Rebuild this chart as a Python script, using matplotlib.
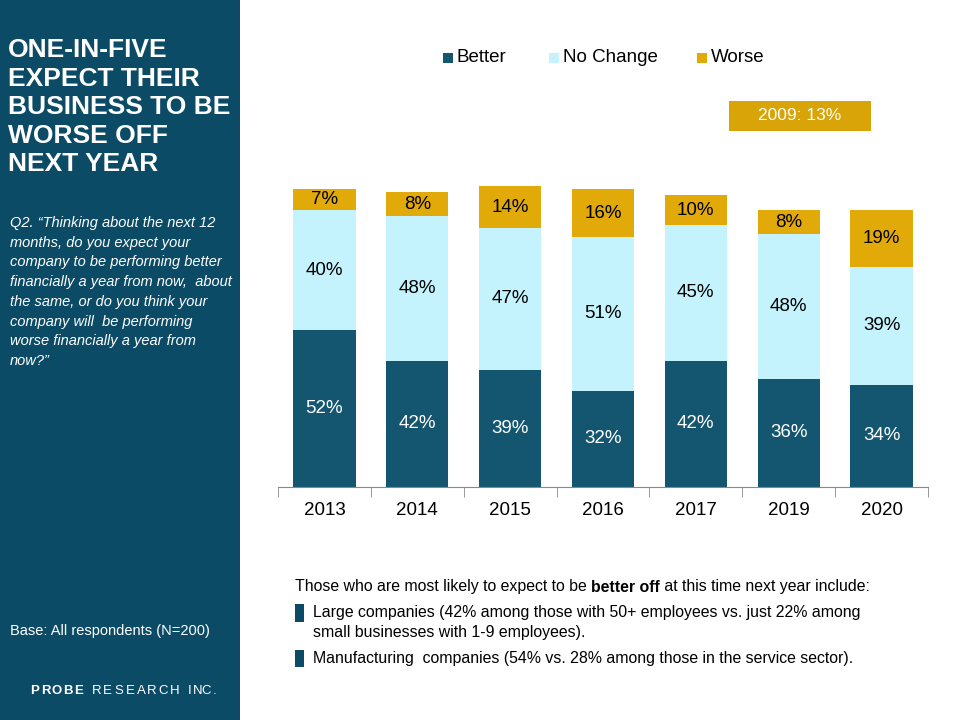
import matplotlib
matplotlib.use("Agg")
import matplotlib.pyplot as plt
import matplotlib.patches as patches
import numpy as np

plt.rcParams['font.family'] = ['Liberation Sans', 'DejaVu Sans']

# chart data
years = ['2013', '2014', '2015', '2016', '2017', '2019', '2020']
better = [52, 42, 39, 32, 42, 36, 34]
no_change = [40, 48, 47, 51, 45, 48, 39]
worse = [7, 8, 14, 16, 10, 8, 19]
series_names = ['Better', 'No Change', 'Worse']

PANEL = '#0c4b66'
DARK = '#14566f'
LIGHT = '#c5f3fd'
GOLD = '#e2aa08'

W, H = 960, 720
fig = plt.figure(figsize=(9.6, 7.2), dpi=100)
fig.canvas.draw()
r = fig.canvas.get_renderer()


def fx(px):
    return px / W


def fy(py):
    return 1 - py / H


def spaced(text, x0, x1, y, **kw):
    # letters on an even pitch between x0 and x1 (pixels)
    pitch = (x1 - x0) / len(text)
    for i, c in enumerate(text):
        fig.text(fx(x0 + pitch * (i + 0.5)), fy(y), c, va='center', ha='center', **kw)


# left side panel
fig.patches.append(patches.Rectangle((0, 0), fx(240), 1, transform=fig.transFigure,
                                     facecolor=PANEL, edgecolor='none', zorder=0))

# title + question text
fig.text(fx(8), fy(38), 'ONE-IN-FIVE\nEXPECT THEIR\nBUSINESS TO BE\nWORSE OFF\nNEXT YEAR',
         color='white', fontsize=19, fontweight='bold', va='top', ha='left', linespacing=1.24)
fig.text(fx(10), fy(216),
         'Q2. \u201cThinking about the next 12\nmonths, do you expect your\n'
         'company to be performing better\nfinancially a year from now,  about\n'
         'the same, or do you think your\ncompany will  be performing\n'
         'worse financially a year from\nnow?\u201d',
         color='white', fontsize=10.5, style='italic', va='top', ha='left', linespacing=1.52)
fig.text(fx(10), fy(631), 'Base: All respondents (N=200)', color='white',
         fontsize=10.5, va='center', ha='left')
spaced('PROBE', 29, 84, 691, color='white', fontsize=9.5, fontweight='bold')
spaced('RESEARCH', 91, 180, 691, color='white', fontsize=9.5)
spaced('INC.', 185, 219, 691, color='white', fontsize=9.5)

# bars
ax = fig.add_axes([fx(278), 233 / H, 650 / W, 301 / H])
x = np.arange(len(years))
b1 = ax.bar(x, better, width=0.67, color=DARK, label=series_names[0])
b2 = ax.bar(x, no_change, width=0.67, bottom=better, color=LIGHT, label=series_names[1])
bottom3 = np.array(better) + np.array(no_change)
b3 = ax.bar(x, worse, width=0.67, bottom=bottom3, color=GOLD, label=series_names[2])

for bars, vals, col in [(b1, better, 'white'), (b2, no_change, 'black'), (b3, worse, 'black')]:
    for rect, v in zip(bars, vals):
        ax.text(rect.get_x() + rect.get_width() / 2, rect.get_y() + rect.get_height() / 2,
                f'{v}%', ha='center', va='center', color=col, fontsize=13.5)

ax.set_xlim(-0.5, len(years) - 0.5)
ax.set_ylim(0, 100)
ax.set_yticks([])
ax.set_xticks(x)
ax.set_xticklabels(years, fontsize=13.5)
ax.tick_params(axis='x', which='major', length=0, pad=11)
ax.set_xticks(np.arange(-0.5, len(years), 1), minor=True)
ax.tick_params(axis='x', which='minor', length=7, color='#888888', direction='out')
for s in ['top', 'right', 'left']:
    ax.spines[s].set_visible(False)
ax.spines['bottom'].set_color('#888888')
ax.patch.set_alpha(0)

# legend, drawn by hand to match the spacing
for name, col, px in zip(series_names, [DARK, LIGHT, GOLD], [443, 549, 697]):
    fig.patches.append(patches.Rectangle((fx(px), fy(63)), fx(10), 10 / H,
                                         transform=fig.transFigure, facecolor=col,
                                         edgecolor='none'))
    fig.text(fx(px + 14), fy(58), name, fontsize=13.5, va='center', ha='left')

# 2009 callout box
fig.patches.append(patches.Rectangle((fx(729), fy(131)), fx(142), 30 / H,
                                     transform=fig.transFigure, facecolor='#d8a407',
                                     edgecolor='none'))
fig.text(fx(800), fy(116), '2009: 13%', color='white', fontsize=12.5,
         ha='center', va='center')

# notes below the chart
fs = 11.4
p1 = fig.text(fx(295), fy(587), 'Those who are most likely to expect to be ', fontsize=fs,
              va='center', ha='left')
e = p1.get_window_extent(r)
p2 = fig.text(e.x1 / W, fy(587), 'better off', fontsize=fs, fontweight='bold',
              va='center', ha='left')
e = p2.get_window_extent(r)
fig.text(e.x1 / W, fy(587), ' at this time next year include:', fontsize=fs,
         va='center', ha='left')

for ytop, ybot in [(604, 622), (650, 667)]:
    fig.patches.append(patches.Rectangle((fx(295), fy(ybot)), fx(9), (ybot - ytop) / H,
                                         transform=fig.transFigure, facecolor=PANEL,
                                         edgecolor='none'))
fig.text(fx(313), fy(613),
         'Large companies (42% among those with 50+ employees vs. just 22% among',
         fontsize=fs, va='center', ha='left')
fig.text(fx(313), fy(633), 'small businesses with 1-9 employees).',
         fontsize=fs, va='center', ha='left')
fig.text(fx(313), fy(659),
         'Manufacturing  companies (54% vs. 28% among those in the service sector).',
         fontsize=fs, va='center', ha='left')

fig.savefig('out.png', dpi=100)
